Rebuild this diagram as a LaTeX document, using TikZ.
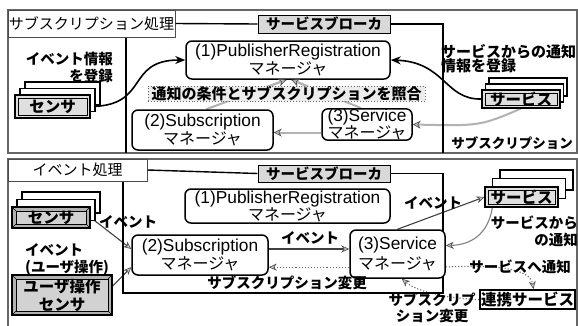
\documentclass[tikz,border=0pt]{standalone}
\usepackage{fontspec}
\setmainfont{Liberation Sans}
\newfontfamily\jp{Noto Sans CJK JP}
\newcommand\mgrjp{\jp\fontsize{16}{18}\selectfont}
\usetikzlibrary{arrows.meta,calc}
\pgfdeclarelayer{bg}
\pgfsetlayers{bg,main}
\begin{document}
\begin{tikzpicture}[x=1pt,y=-1pt,
  frm/.style={draw=black!60, line width=1.6pt},
  brk/.style={draw=black, line width=1.4pt},
  ttl/.style={draw=black!70, line width=1pt, fill=white, inner sep=0pt, font=\jp\fontsize{15}{16}\selectfont},
  blab/.style={draw=black, line width=1pt, fill=gray!30, inner sep=0pt, font=\jp\bfseries\fontsize{14.5}{16}\selectfont},
  mgr/.style={draw=black, line width=1.5pt, rounded corners=6pt, fill=white, inner sep=0pt, align=center, font=\fontsize{17.3}{18}\selectfont},
  lbl/.style={inner sep=0pt, font=\jp\bfseries\fontsize{14.5}{17}\selectfont},
  cond/.style={draw=black!60, dotted, line width=0.9pt, fill=gray!15, inner sep=0pt, font=\jp\bfseries\fontsize{15}{16}\selectfont},
  bk/.style={draw=black, line width=1.2pt, fill=white, inner sep=0pt},
  fr/.style={draw=black, line width=1.2pt, fill=gray!25, inner sep=0pt, font=\jp\bfseries\fontsize{15.5}{16}\selectfont,
    path picture={\draw[line width=0.6pt] ([shift={(3,3)}]path picture bounding box.north west) rectangle ([shift={(-3,-3)}]path picture bounding box.south east);}},
  dk/.style={draw=black, line width=1.2pt, fill=gray!60, inner sep=0pt, align=center, font=\jp\bfseries\fontsize{15.5}{18}\selectfont,
    path picture={\draw[line width=0.6pt, fill=gray!35] ([shift={(4,4)}]path picture bounding box.north west) rectangle ([shift={(-4,-4)}]path picture bounding box.south east);
      \draw[line width=0.5pt] (path picture bounding box.north west) -- ++(4,4) (path picture bounding box.north east) -- ++(-4,4) (path picture bounding box.south west) -- ++(4,-4) (path picture bounding box.south east) -- ++(-4,-4);}},
  rk/.style={draw=black, line width=1.8pt, fill=white, inner sep=0pt, font=\jp\bfseries\fontsize{15.5}{16}\selectfont},
  blk/.style={draw=black, line width=1.6pt, -{Stealth[length=10pt,width=8pt]}},
  glnp/.style={draw=gray!60, line width=2pt},
  gln/.style={glnp, -{Stealth[length=8pt,width=8pt,fill=gray!50,color=black!70,line width=0.6pt]}},
  gar/.style={draw=black!75, line width=1.1pt, -{Stealth[length=8pt,width=7pt,fill=gray!45,color=black!70,line width=0.6pt]}},
  gdt/.style={draw=black!60, line width=1.1pt, dotted, -{Stealth[length=8pt,width=7pt,fill=gray!45,color=black!70,line width=0.6pt]}},
]
\useasboundingbox (0,0) rectangle (578,325);
\begin{pgfonlayer}{bg}
\fill[white] (0,0) rectangle (578,325);
\end{pgfonlayer}

% ===== top panel =====
\draw[frm] (8,10) rectangle (577,153);
\node[ttl, minimum width=167pt, minimum height=27pt] (t1) at (91.5,23.5) {サブスクリプション処理};
\node[blab, minimum width=132pt, minimum height=18pt] (b1) at (324,24) {サービスブローカ};
\coordinate (b1r) at (443,24);
\coordinate (b1br) at (443,153);
\coordinate (b1l) at (126,153);
\draw[brk] (t1.east) -- (b1.west);
\draw[brk] (b1.east) -- (b1r) -- (b1br);
\draw[brk] (t1.south -| b1l) -- (b1l);

\node[mgr, minimum width=204pt, minimum height=38pt] (pr1) at (288,60) {(1)PublisherRegistration\\{\mgrjp マネージャ}};
\node[mgr, minimum width=141pt, minimum height=40pt] (sub1) at (202.5,130) {(2)Subscription\\{\mgrjp マネージャ}};
\node[mgr, minimum width=90pt, minimum height=29pt, font=\fontsize{17.3}{16}\selectfont] (svc1) at (367,124.5) {(3)Service\\{\mgrjp マネージャ}};
\node[cond, minimum width=277pt, minimum height=15pt] (cond1) at (286.5,93.5) {通知の条件とサブスクリプションを照合};
% arrow heads above the condition label
\draw[gln] ($(sub1.80)!0.82!(pr1.265)$) -- (pr1.265);
\draw[gln] ($(svc1.110)!0.78!(pr1.280)$) -- (pr1.280);

\node[bk, minimum width=75pt, minimum height=23pt] (sa2) at (62.5,93.5) {};
\node[bk, minimum width=75pt, minimum height=23pt] (sa1) at (57.5,100) {};
\node[fr, minimum width=75pt, minimum height=23pt] (s1) at (52.5,106.5) {センサ};

\node[bk, minimum width=78pt, minimum height=18pt] (va2) at (528,87) {};
\node[bk, minimum width=78pt, minimum height=18pt] (va1) at (524.5,93) {};
\node[fr, minimum width=78pt, minimum height=18pt] (v1) at (521,99) {サービス};

\node[lbl, align=right, anchor=north east] (l1) at (113,52) {イベント情報\\を登録};
\node[lbl, align=left, anchor=north west, font=\jp\bfseries\fontsize{15}{14.5}\selectfont] (l2) at (441,44) {サービスからの通知\\情報を登録};
\node[lbl, font=\jp\bfseries\fontsize{13.5}{15}\selectfont] (l3) at (512,143) {サブスクリプション};

\begin{pgfonlayer}{bg}
\draw[blk] (s1.east) .. controls (150,106) and (125,60) .. (pr1.west);
\draw[blk] (v1.west) .. controls (445,100) and (445,62) .. (pr1.east);
\draw[gln] (v1.south) .. controls (480,126) .. (svc1.east);
\draw[gln] (svc1.190) -- (svc1.190 -| sub1.east);
\draw[glnp] (sub1.80) -- (pr1.265);
\draw[glnp] (svc1.110) -- (pr1.280);
\end{pgfonlayer}

% ===== bottom panel =====
\draw[frm] (8,159) rectangle (577,330);
\node[ttl, minimum width=139pt, minimum height=22pt] (t2) at (77.5,170) {イベント処理};
\node[blab, minimum width=132pt, minimum height=17pt] (b2) at (324,173.5) {サービスブローカ};
\coordinate (b2r) at (443,173.5);
\coordinate (b2br) at (443,293);
\coordinate (b2bl) at (123,293);
\draw[brk] (t2.east) -- (b2.west);
\draw[brk] (b2.east) -- (b2r) -- (b2br) -- (b2bl) -- (t2.south -| b2bl);

\node[mgr, minimum width=205pt, minimum height=34pt, font=\fontsize{17.3}{17}\selectfont] (pr2) at (287.5,206) {(1)PublisherRegistration\\{\mgrjp マネージャ}};
\node[mgr, minimum width=136pt, minimum height=40pt] (sub2) at (200,255) {(2)Subscription\\{\mgrjp マネージャ}};
\node[mgr, minimum width=95pt, minimum height=48pt, font=\fontsize{17.3}{20}\selectfont] (svc2) at (397.5,254) {(3)Service\\{\mgrjp マネージャ}};

\node[bk, minimum width=78pt, minimum height=21pt] (sb2) at (61,202.5) {};
\node[bk, minimum width=78pt, minimum height=21pt] (sb1) at (56,210) {};
\node[dk, minimum width=78pt, minimum height=21pt] (s2) at (51,217.5) {センサ};
\node[dk, minimum width=100pt, minimum height=40pt] (u2) at (62,295) {ユーザ操作\\センサ};

\node[bk, minimum width=73pt, minimum height=20pt] (vb2) at (536.5,180) {};
\node[bk, minimum width=73pt, minimum height=20pt] (vb1) at (529,188.5) {};
\node[fr, minimum width=73pt, minimum height=20pt] (v2) at (521.5,197) {サービス};
\node[rk, minimum width=95pt, minimum height=19pt] (rk) at (527.5,299.5) {連携サービス};

\node[lbl] (e1) at (128,222) {イベント};
\node[lbl, align=left, anchor=west] (e2) at (25,259) {イベント\\(ユーザ操作)};
\node[lbl] (e3) at (310,238) {イベント};
\node[lbl] (e4) at (287,283) {サブスクリプション変更};
\node[lbl] (e5) at (433,203) {イベント};
\node[lbl, align=right, anchor=east] (e6) at (578,231) {サービスから\\の通知};
\node[lbl] (e7) at (520,267) {サービスへ通知};
\node[lbl, align=center, font=\jp\bfseries\fontsize{14.5}{16}\selectfont] (e8) at (432,308) {サブスクリプ\\ション変更};

\begin{pgfonlayer}{bg}
\draw[gar] (s2.east) -- (sub2.175);
\draw[gar] (u2.10) -- (sub2.190);
\draw[gar] (sub2.5) -- (sub2.5 -| svc2.west);
\draw[gdt] (svc2.west |- sub2.350) -- (sub2.350);
\draw[gar] (svc2.north) -- (v2.west);
\draw[gar, draw=black!50] (v2.200) .. controls (488,235) and (470,245) .. (svc2.10);
\draw[gdt] (svc2.345) .. controls (495,265) and (530,268) .. (rk.60);
\draw[gdt] (rk.west) .. controls (440,298) and (415,290) .. (svc2.280);
\end{pgfonlayer}
\end{tikzpicture}
\end{document}
